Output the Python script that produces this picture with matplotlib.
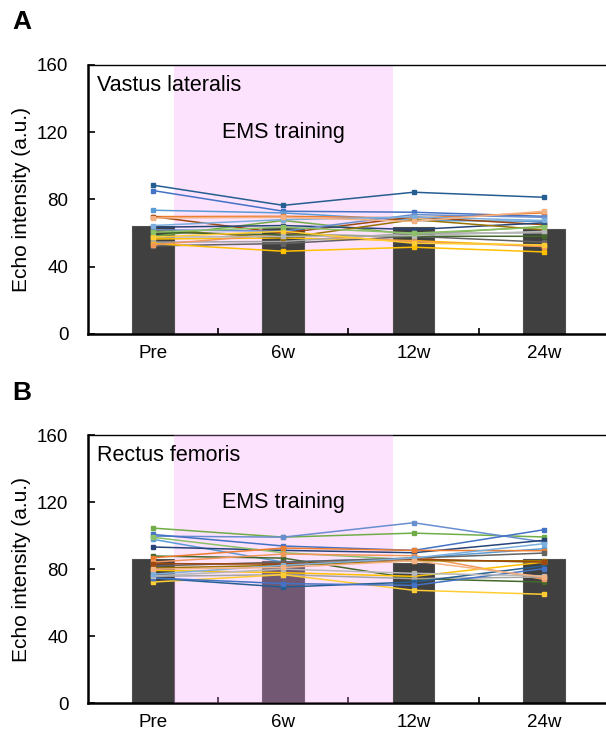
import matplotlib
matplotlib.use("Agg")
import matplotlib.pyplot as plt
import numpy as np

plt.rcParams['font.family'] = ['Liberation Sans', 'DejaVu Sans']

categories = ["Pre", "6w", "12w", "24w"]
yticks = [0, 40, 80, 120, 160]

vl_means = [64.0, 63.0, 63.5, 62.5]
rf_means = [86.3, 84.7, 83.6, 85.8]

vl_colors = ["#255E91", "#4472C4", "#5B9BD5", "#ED7D31", "#9E480E", "#70AD47",
             "#264478", "#FFC000", "#A5A5A5", "#636363", "#FFC000", "#F1975A",
             "#997300", "#698ED0", "#43682B", "#B7B7B7", "#FFCD33", "#7CAFDD",
             "#F4B183", "#8CC168"]

rf_colors = ["#70AD47", "#698ED0", "#4472C4", "#5B9BD5", "#264478", "#8CC168",
             "#43682B", "#ED7D31", "#F1975A", "#FFC000", "#A5A5A5", "#636363",
             "#FFCD33", "#255E91", "#4472C4", "#997300", "#9E480E", "#B7B7B7",
             "#7CAFDD", "#F4B183"]

vl_subjects = [
    [88.5, 76.5, 84.3, 81.3],
    [85.3, 73.0, 72.4, 70.0],
    [73.6, 72.0, 67.5, 67.0],
    [69.8, 70.0, 69.0, 72.0],
    [69.8, 60.0, 69.6, 65.0],
    [58.0, 67.5, 59.1, 64.0],
    [63.5, 64.5, 62.1, 66.1],
    [56.5, 57.1, 55.5, 52.2],
    [54.6, 55.0, 60.0, 60.1],
    [52.4, 53.8, 58.1, 54.6],
    [53.8, 49.2, 51.6, 48.8],
    [53.0, 59.5, 55.0, 52.0],
    [62.0, 57.0, 68.0, 62.0],
    [62.0, 61.1, 71.0, 69.4],
    [60.5, 59.0, 58.1, 58.1],
    [57.6, 58.0, 58.5, 61.0],
    [57.6, 61.1, 54.0, 53.0],
    [64.5, 68.0, 69.6, 67.5],
    [69.0, 69.4, 67.0, 73.0],
    [60.5, 63.5, 60.0, 63.5],
]

rf_subjects = [
    [104.5, 99.1, 101.5, 99.2],
    [99.7, 99.1, 107.7, 96.2],
    [100.7, 93.8, 91.2, 103.5],
    [97.8, 84.2, 86.6, 92.2],
    [93.2, 91.2, 89.8, 97.2],
    [99.0, 89.8, 85.6, 84.2],
    [87.8, 86.6, 74.3, 72.3],
    [86.8, 92.6, 91.2, 91.0],
    [84.2, 89.0, 88.0, 73.9],
    [79.3, 77.9, 75.7, 84.2],
    [75.7, 76.7, 74.3, 75.3],
    [81.9, 84.2, 86.6, 89.6],
    [72.3, 76.7, 67.4, 65.0],
    [74.7, 69.3, 72.3, 82.0],
    [74.7, 71.4, 70.3, 80.3],
    [80.7, 82.3, 85.0, 85.0],
    [83.3, 83.0, 86.0, 84.2],
    [76.0, 80.0, 77.5, 76.0],
    [77.0, 82.3, 86.6, 95.2],
    [80.0, 81.0, 85.0, 75.3],
]

fig = plt.figure(figsize=(6.06, 7.34), dpi=100)

def panel(rect, means, subjects, colors, muscle, letter, pink_on_top):
    ax = fig.add_axes(rect)
    x = np.arange(len(categories))
    ax.bar(x, means, width=0.32, color="#404040", edgecolor="#505050",
           linewidth=0.8, zorder=2)
    ax.axvspan(0.16, 1.84, color="#F597F5", alpha=0.28, lw=0,
               zorder=3 if pink_on_top else 1)
    for vals, c in zip(subjects, colors):
        ax.plot(x, vals, color=c, lw=1.1, marker="s", markersize=2.2,
                zorder=4)
    ax.set_xlim(-0.5, 3.5)
    ax.set_ylim(0, 160)
    ax.set_yticks(yticks)
    ax.tick_params(axis="y", direction="in", length=5, width=1.2,
                   labelsize=13.5, pad=14)
    ax.set_xticks([0.5, 1.5, 2.5])
    ax.set_xticklabels([])
    ax.tick_params(axis="x", which="major", direction="in", length=4, width=1.2)
    ax.set_xticks(x, minor=True)
    ax.set_xticklabels(categories, minor=True)
    ax.tick_params(axis="x", which="minor", length=0, labelsize=13.5, pad=8)
    ax.spines["right"].set_visible(False)
    ax.spines["left"].set_linewidth(1.8)
    ax.spines["bottom"].set_linewidth(1.8)
    ax.spines["top"].set_linewidth(1.0)
    ax.set_ylabel("Echo intensity (a.u.)", fontsize=15, labelpad=4)
    ax.text(0.018, 0.925, muscle, transform=ax.transAxes, fontsize=15.5,
            va="center", ha="left")
    ax.text(1.0, 120, "EMS training", fontsize=15.5, ha="center",
            va="center", zorder=5)
    fig.text(0.02, rect[1] + rect[3] + 0.058, letter, fontsize=19,
             fontweight="bold", va="center", ha="left")
    return ax

panel([0.145, 0.545, 0.86, 0.3665], vl_means, vl_subjects, vl_colors,
      "Vastus lateralis", "A", False)
panel([0.145, 0.042, 0.86, 0.3652], rf_means, rf_subjects, rf_colors,
      "Rectus femoris", "B", True)

fig.savefig("out.png", dpi=100)
